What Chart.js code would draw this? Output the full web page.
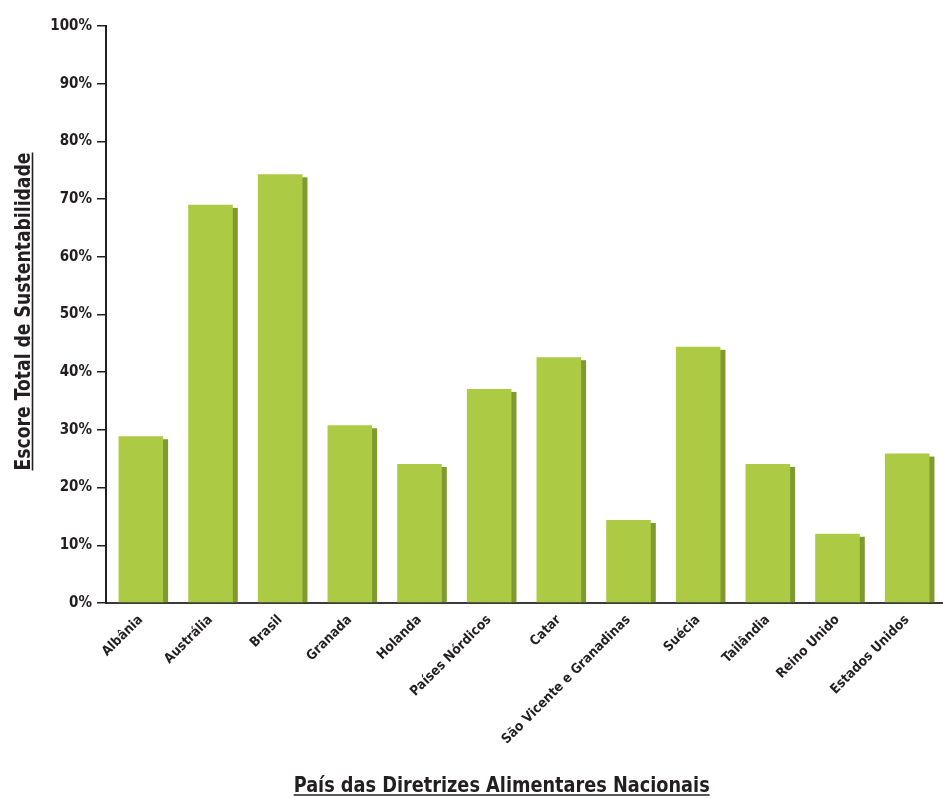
<!DOCTYPE html>
<html lang="pt">
<head>
<meta charset="utf-8">
<title>Escore Total de Sustentabilidade</title>
<script src="https://cdn.jsdelivr.net/npm/chart.js@4.4.0/dist/chart.umd.min.js"></script>
<style>
    html, body { margin: 0; padding: 0; background: #ffffff; }
    #wrap { width: 943px; height: 798px; position: relative; }
</style>
</head>
<body>
<div id="wrap"><canvas id="scoreChart" width="943" height="798"></canvas></div>
<script>
const countries = [
    'Albânia', 'Austrália', 'Brasil', 'Granada', 'Holanda', 'Países Nórdicos',
    'Catar', 'São Vicente e Granadinas', 'Suécia', 'Tailândia', 'Reino Unido', 'Estados Unidos'
];
const scores = [28.9, 69.0, 74.3, 30.8, 24.1, 37.1, 42.6, 14.4, 44.4, 24.1, 12.0, 25.9];

const yTitle = 'Escore Total de Sustentabilidade';
const xTitle = 'País das Diretrizes Alimentares Nacionais';

const FONT = "'Liberation Sans Narrow', 'DejaVu Sans Condensed', sans-serif";
const INK = '#231f20';
const BAR_GREEN = '#adca44';
const BAR_SHADE = '#7e9a30';

// darker strip on the right of every bar, drawn before the bars themselves
const barShade = {
    id: 'barShade',
    beforeDatasetsDraw(chart) {
        const ctx = chart.ctx;
        const meta = chart.getDatasetMeta(0);
        ctx.save();
        ctx.fillStyle = BAR_SHADE;
        meta.data.forEach(bar => {
            const {x, y, base, width} = bar.getProps(['x', 'y', 'base', 'width'], true);
            const top = y + 3;
            ctx.fillRect(x + width / 2 - 1, top, 6, base - top);
        });
        ctx.restore();
    }
};

// underlined axis titles, squeezed to a narrow width
function underlinedText(ctx, text, x, y, maxW) {
    ctx.fillText(text, x, y, maxW);
    const w = Math.min(ctx.measureText(text).width, maxW);
    ctx.beginPath();
    ctx.moveTo(x - w / 2, y + 3);
    ctx.lineTo(x + w / 2, y + 3);
    ctx.stroke();
}

const axisTitles = {
    id: 'axisTitles',
    afterDraw(chart) {
        const ctx = chart.ctx;
        ctx.save();
        ctx.fillStyle = INK;
        ctx.strokeStyle = INK;
        ctx.lineWidth = 1.6;
        ctx.font = "bold 22px " + FONT;
        ctx.textAlign = 'center';
        ctx.textBaseline = 'alphabetic';

        underlinedText(ctx, xTitle, chart.width * 0.532, chart.height - 6, 416);

        const mid = (chart.chartArea.top + chart.chartArea.bottom) / 2 - 3;
        ctx.translate(29.5, mid);
        ctx.rotate(-Math.PI / 2);
        underlinedText(ctx, yTitle, 0, 0, 318);
        ctx.restore();
    }
};

const ctx = document.getElementById('scoreChart').getContext('2d');
new Chart(ctx, {
    type: 'bar',
    data: {
        labels: countries,
        datasets: [{
            data: scores,
            backgroundColor: BAR_GREEN,
            borderWidth: 0,
            categoryPercentage: 1.0,
            barPercentage: 0.64
        }]
    },
    options: {
        responsive: false,
        animation: false,
        layout: {
            padding: { top: 26, right: 1, left: 0, bottom: 0 }
        },
        plugins: {
            legend: { display: false },
            tooltip: { enabled: false }
        },
        scales: {
            x: {
                grid: { display: false },
                border: { display: true, color: '#3a3a3a', width: 2 },
                ticks: {
                    color: INK,
                    font: { family: FONT, size: 13.5, weight: 'bold' },
                    maxRotation: 45,
                    minRotation: 45,
                    padding: 1,
                    autoSkip: false
                },
                afterFit(scale) { scale.height = 195; }
            },
            y: {
                min: 0,
                max: 100,
                grid: {
                    drawOnChartArea: false,
                    color: INK,
                    lineWidth: 1.5,
                    tickLength: 9
                },
                border: { display: true, color: INK, width: 2 },
                ticks: {
                    stepSize: 10,
                    color: INK,
                    padding: 5,
                    font: { family: FONT, size: 15, weight: 'bold' },
                    callback: value => value + '%'
                },
                afterFit(scale) { scale.width = 106; }
            }
        }
    },
    plugins: [barShade, axisTitles]
});
</script>
</body>
</html>
